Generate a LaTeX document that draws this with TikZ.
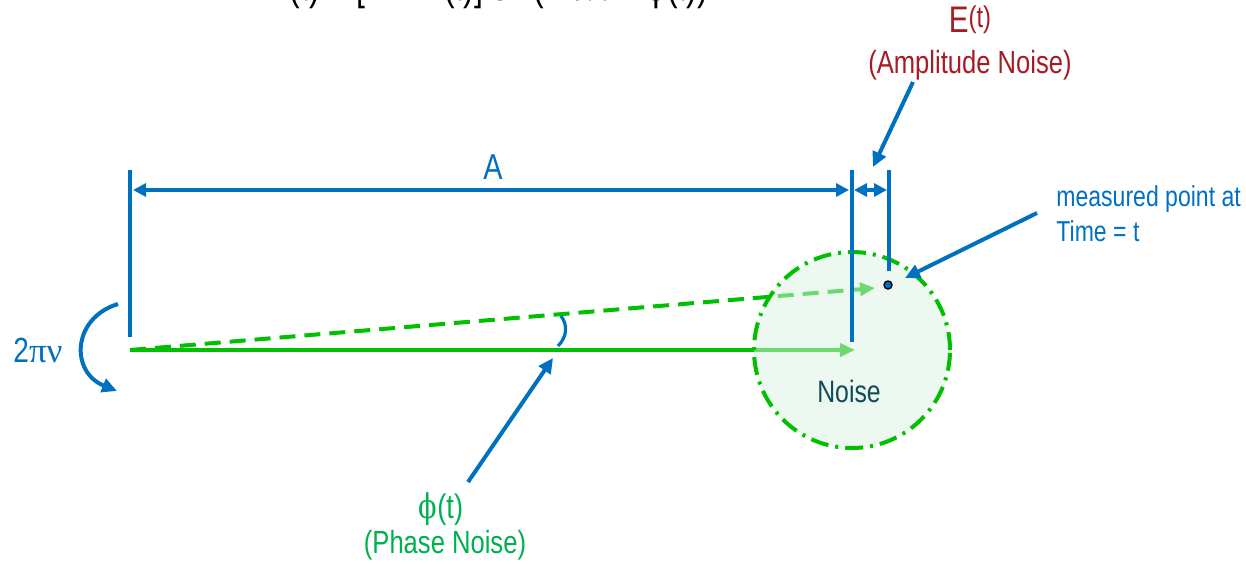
\documentclass[tikz,border=0pt]{standalone}
\usepackage{fontspec}
\setmainfont{Liberation Sans}[FakeStretch=0.8]
\newfontfamily\grkfont{Liberation Serif}
\newfontfamily\phifont{DejaVu Serif}[FakeStretch=0.8]
\usetikzlibrary{arrows.meta,positioning}
\definecolor{pblue}{HTML}{0070C0}
\definecolor{pgreen}{HTML}{00C000}
\definecolor{tgreen}{HTML}{00B050}
\definecolor{ared}{HTML}{A51C24}
\definecolor{nteal}{HTML}{0E4C5A}
\definecolor{nfill}{HTML}{DCF2E2}
\newcommand{\lblfont}{\fontsize{16}{19}\selectfont}
\tikzset{
  tick/.style     ={draw=pblue, line width=1.8pt},
  dimarr/.style   ={{Triangle[length=6.5pt,width=6.5pt]}-{Triangle[length=6.5pt,width=6.5pt]},
                    draw=pblue, line width=1.6pt},
  ptr/.style      ={-{Triangle[length=7.5pt,width=7pt]}, draw=pblue, line width=2pt},
  vec/.style      ={-{Triangle[length=7.5pt,width=6.5pt]}, draw=pgreen, line width=2pt},
  vecd/.style     ={vec, dash pattern=on 8pt off 4.5pt},
  noisecirc/.style={circle, draw=pgreen, line width=2pt, inner sep=0pt,
                    dash pattern=on 9pt off 3.5pt on 1.5pt off 3.5pt,
                    fill=nfill, fill opacity=0.5, minimum size=98pt},
  mdot/.style     ={circle, draw=black, line width=0.7pt, fill=pblue,
                    inner sep=0pt, minimum size=4pt},
  lbl/.style      ={font=\lblfont, inner sep=0pt, anchor=base},
}

\begin{document}
\begin{tikzpicture}[x=0.5pt,y=-0.5pt]
\useasboundingbox (0,0) rectangle (1246,563);
\clip (0,0) rectangle (1246,563);
% formula, cut off by the top edge
\node[lbl, font=\fontsize{20}{24}\selectfont] (formula) at (488,0)
  {V(t) = [A + E(t)] sin(2{\grkfont πν}t + {\phifont ϕ}(t))};
% vectors
\coordinate (O)    at (130,350);
\coordinate (Atip) at (855,350);
\coordinate (Ptip) at (875,288);
\draw[vec]  (O) -- (Atip);
\draw[vecd] (O) -- (Ptip);
\node[noisecirc] (noise) at (852,350) {};
\node[lbl, font=\fontsize{15.5}{18}\selectfont, text=nteal] (noiselbl) at (849,402) {Noise};
% ticks and dimensions
\coordinate (L1)  at (130,170); \coordinate (L1b) at (130,337);
\coordinate (R1)  at (852,170); \coordinate (R1b) at (852,342);
\coordinate (R2)  at (889,170); \coordinate (R2b) at (889,271);
\draw[tick] (L1) -- (L1b);
\draw[tick] (R1) -- (R1b);
\draw[tick] (R2) -- (R2b);
\coordinate (dL) at (130,190); \coordinate (dM) at (852,190); \coordinate (dR) at (889,190);
\draw[dimarr, shorten <=1.5pt, shorten >=1.5pt] (dL) -- (dM);
\draw[dimarr, shorten <=1pt, shorten >=1pt] (dM) -- (dR);
\node[lbl, font=\fontsize{18}{20}\selectfont, text=pblue] (alen) at (493,179) {A};
\node[mdot] (meas) at (888,285) {};
% amplitude noise
\node[lbl, font=\fontsize{18.5}{20}\selectfont, text=ared] (et) at (970,32)
  {E{\fontsize{15}{18}\selectfont\raisebox{2.5pt}{(t)}}};
\node[lbl, text=ared] (amp) at (970,73) {(Amplitude Noise)};
\coordinate (etfrom) at (913,82); \coordinate (etto) at (873,167);
\draw[ptr] (etfrom) -- (etto);
% measured point
\node[font=\fontsize{14.4}{17.5}\selectfont, text=pblue, align=left, inner sep=0pt,
      anchor=north west] (mlbl) at (1056,185) {measured point at\\Time = t};
\coordinate (mfrom) at (1037,213); \coordinate (mto) at (905,278);
\draw[ptr] (mfrom) -- (mto);
% phase noise
\coordinate (a1) at (561,316); \coordinate (a2) at (558,346);
\draw[draw=pblue, line width=1.6pt] (a1) .. controls (568,325) and (567,337) .. (a2);
\node[lbl, font=\fontsize{17}{20}\selectfont, text=tgreen] (phi) at (441,518)
  {{\phifont ϕ}(t)};
\node[lbl, text=tgreen] (phase) at (445,553) {(Phase Noise)};
\coordinate (pfrom) at (468,482); \coordinate (pto) at (553,358);
\draw[ptr] (pfrom) -- (pto);
% rotation
\node[lbl, font=\fontsize{17.5}{20}\selectfont, text=pblue] (rot) at (38,362)
  {2{\grkfont πν}};
\coordinate (r1) at (118,304); \coordinate (r2) at (117,391);
\draw[ptr] (r1) .. controls (72,318) and (70,372) .. (r2);
\end{tikzpicture}
\end{document}
